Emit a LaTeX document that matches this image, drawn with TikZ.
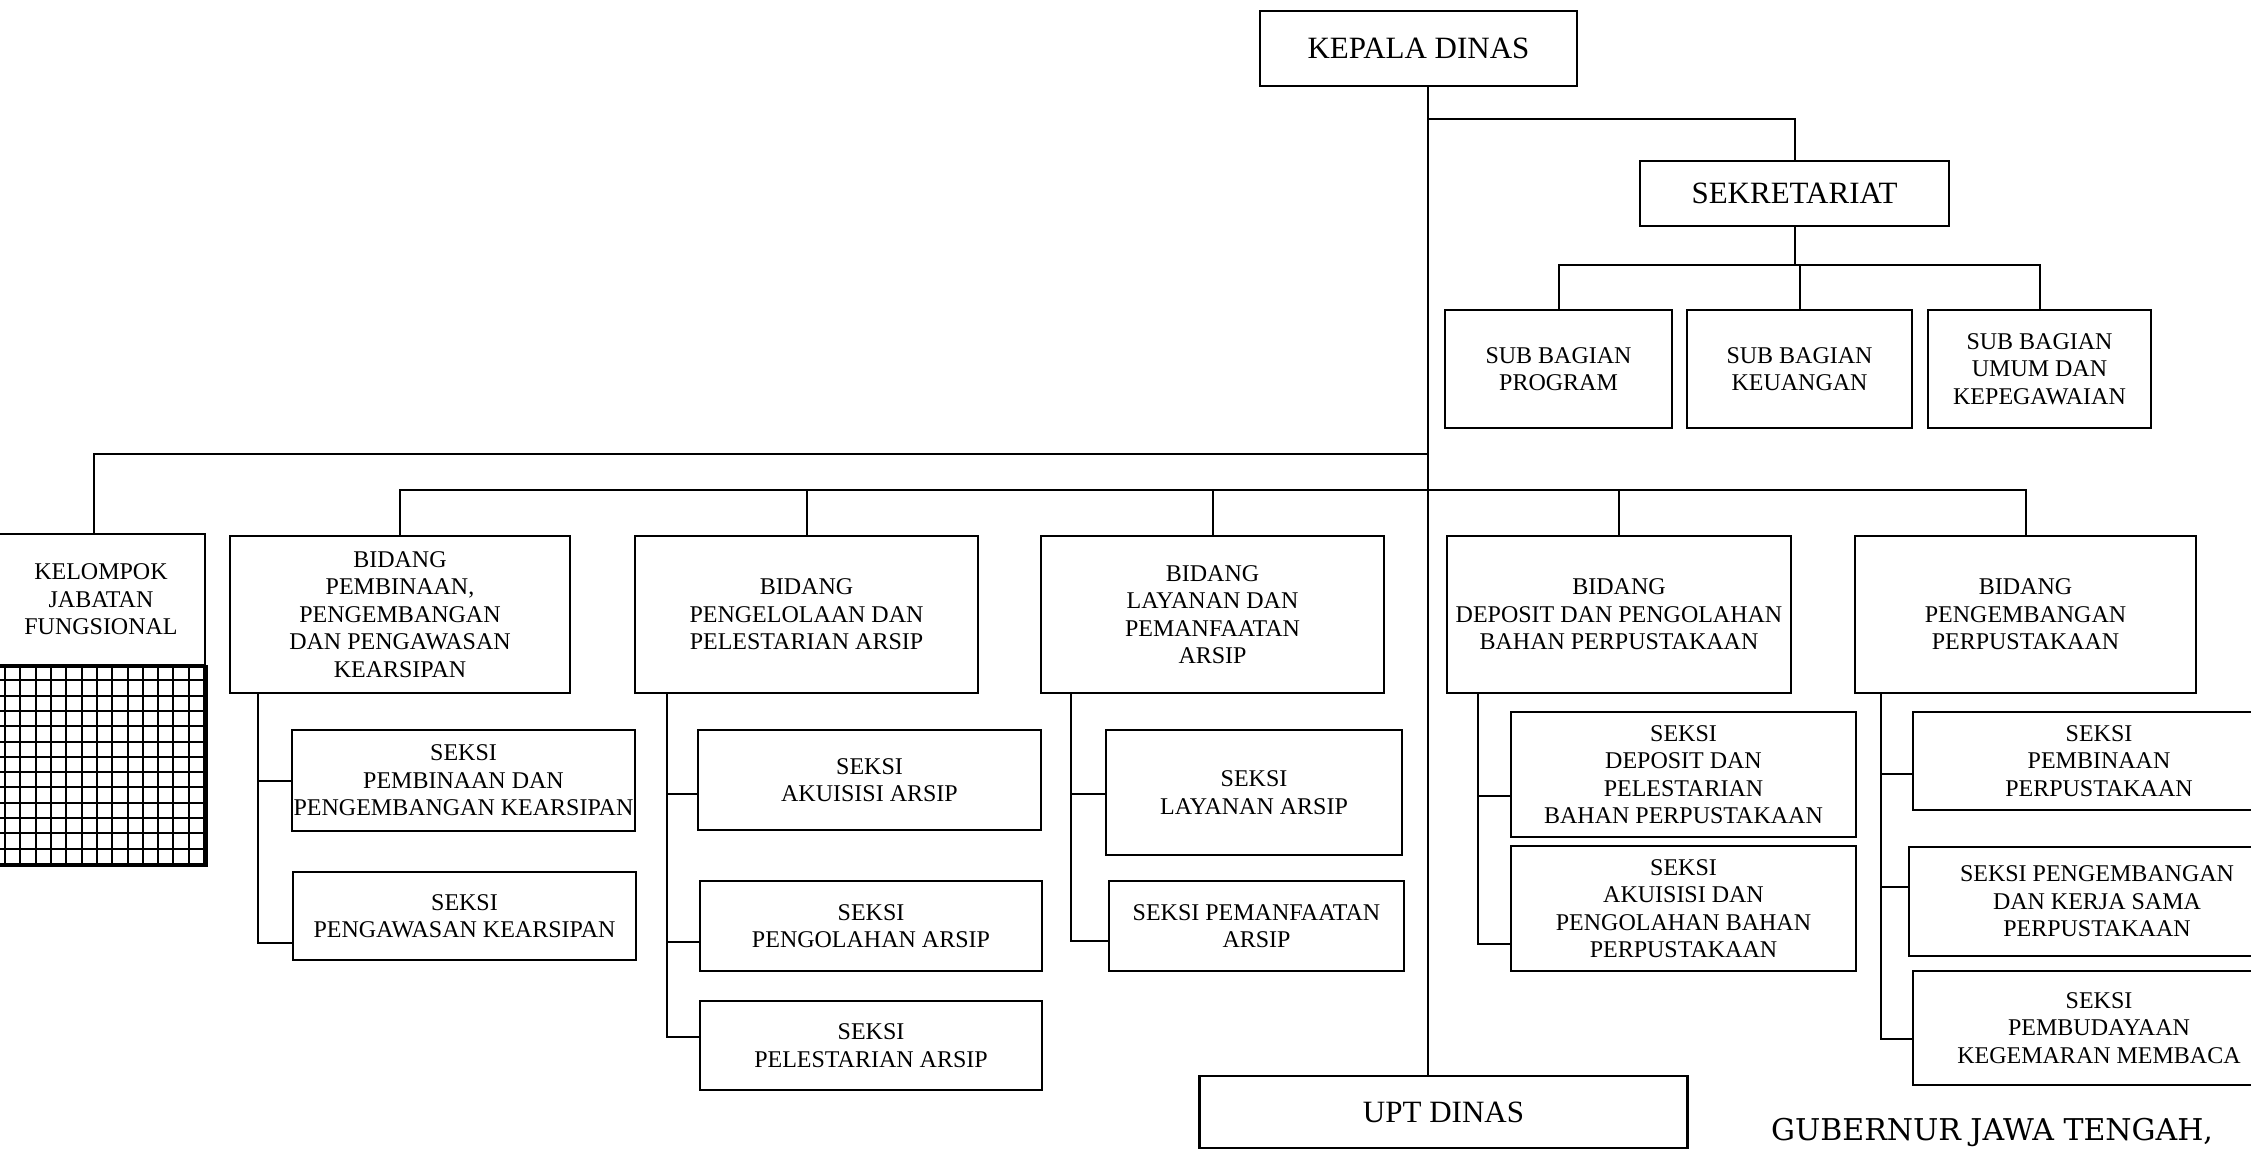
\documentclass[tikz,border=0pt]{standalone}
\usepackage{fontspec}
\setmainfont{Liberation Serif}
\newfontfamily\gubfont{DejaVu Serif}
\tikzset{
kotak/.style={draw, line width=2.5pt, align=center, inner sep=1pt,
  font=\fontsize{24}{27.5}\selectfont},
kotakatas/.style={kotak, font=\fontsize{31}{36}\selectfont},
hubung/.style={line width=2pt}
}

\begin{document}
\begin{tikzpicture}[x=1pt, y=-1pt]
\useasboundingbox (0,0) rectangle (2251,1150);
\node[kotakatas, minimum width=317pt, minimum height=75pt] (kepala) at (1418.5,48.5) {KEPALA DINAS};
\node[kotakatas, minimum width=309pt, minimum height=65pt] (sekretariat) at (1794.5,193.5) {SEKRETARIAT};
\node[kotak, minimum width=227pt, minimum height=118pt] (prog) at (1558.5,369) {SUB BAGIAN\\PROGRAM};
\node[kotak, minimum width=225pt, minimum height=118pt] (keu) at (1799.5,369) {SUB BAGIAN\\KEUANGAN};
\node[kotak, minimum width=223pt, minimum height=118pt] (umum) at (2039.5,369) {SUB BAGIAN\\UMUM DAN\\KEPEGAWAIAN};
\node[kotakatas, minimum width=488pt, minimum height=72pt] (upt) at (1443.5,1112) {UPT DINAS};

\node[kotak, minimum width=208pt, minimum height=131pt] (kelompok) at (101,599.5) {KELOMPOK\\JABATAN\\FUNGSIONAL};
\draw[line width=2pt, shift={(204,665)}, step=15.3pt] (-207,199) grid (0,0);
\draw[line width=2.5pt] (kelompok.south west) rectangle ([yshift=-199pt]kelompok.south east);

\node[kotak, minimum width=340pt, minimum height=157pt] (b1) at (400,614.5) {BIDANG\\PEMBINAAN,\\PENGEMBANGAN\\DAN PENGAWASAN\\KEARSIPAN};
\node[kotak, minimum width=343pt, minimum height=157pt] (b2) at (806.5,614.5) {BIDANG\\PENGELOLAAN DAN\\PELESTARIAN ARSIP};
\node[kotak, minimum width=343pt, minimum height=157pt] (b3) at (1212.5,614.5) {BIDANG\\LAYANAN DAN\\PEMANFAATAN\\ARSIP};
\node[kotak, minimum width=344pt, minimum height=157pt] (b4) at (1619,614.5) {BIDANG\\DEPOSIT DAN PENGOLAHAN\\BAHAN PERPUSTAKAAN};
\node[kotak, minimum width=341pt, minimum height=157pt] (b5) at (2025.5,614.5) {BIDANG\\PENGEMBANGAN\\PERPUSTAKAAN};

\node[kotak, minimum width=343pt, minimum height=101pt] (s11) at (463.5,780.5) {SEKSI\\PEMBINAAN DAN\\PENGEMBANGAN KEARSIPAN};
\node[kotak, minimum width=343pt, minimum height=88pt] (s12) at (464.5,916) {SEKSI\\PENGAWASAN KEARSIPAN};
\node[kotak, minimum width=343pt, minimum height=100pt] (s21) at (869.5,780) {SEKSI\\AKUISISI ARSIP};
\node[kotak, minimum width=342pt, minimum height=90pt] (s22) at (871,926) {SEKSI\\PENGOLAHAN ARSIP};
\node[kotak, minimum width=342pt, minimum height=89pt] (s23) at (871,1045.5) {SEKSI\\PELESTARIAN ARSIP};
\node[kotak, minimum width=296pt, minimum height=125pt] (s31) at (1254,792.5) {SEKSI\\LAYANAN ARSIP};
\node[kotak, minimum width=295pt, minimum height=90pt] (s32) at (1256.5,926) {SEKSI PEMANFAATAN\\ARSIP};
\node[kotak, minimum width=345pt, minimum height=125pt] (s41) at (1683.5,774.5) {SEKSI\\DEPOSIT DAN\\PELESTARIAN\\BAHAN PERPUSTAKAAN};
\node[kotak, minimum width=345pt, minimum height=125pt] (s42) at (1683.5,908.5) {SEKSI\\AKUISISI DAN\\PENGOLAHAN BAHAN\\PERPUSTAKAAN};
\node[kotak, minimum width=372pt, minimum height=98pt] (s51) at (2099,761) {SEKSI\\PEMBINAAN\\PERPUSTAKAAN};
\node[kotak, minimum width=376pt, minimum height=109pt] (s52) at (2097,901.5) {SEKSI PENGEMBANGAN\\DAN KERJA SAMA\\PERPUSTAKAAN};
\node[kotak, minimum width=372pt, minimum height=114pt] (s53) at (2099,1028) {SEKSI\\PEMBUDAYAAN\\KEGEMARAN MEMBACA};

\node[font=\gubfont\fontsize{30}{34}\selectfont, inner sep=0pt] (gub) at (1992,1132) {GUBERNUR JAWA TENGAH,};

\coordinate (cab) at (1428,454);
\coordinate (jalur) at (1428,490);
\coordinate (subbar) at (1799,265);

\draw[hubung] (kepala.south -| cab) -- (upt.north -| cab);
\draw[hubung] ([yshift=-32pt]kepala.south -| cab) -| (sekretariat.north);
\draw[hubung] (sekretariat.south) -- (sekretariat.south |- subbar);
\draw[hubung] (prog.north) |- (subbar) -| (umum.north);
\draw[hubung] (keu.north) -- (keu.north |- subbar);
\draw[hubung] ([xshift=-7pt]kelompok.north) |- (cab);
\draw[hubung] (b1.north) |- (jalur) -| (b5.north);
\draw[hubung] (b2.north) -- (b2.north |- jalur);
\draw[hubung] (b3.north) -- (b3.north |- jalur);
\draw[hubung] (b4.north) -- (b4.north |- jalur);

\draw[hubung] ([xshift=29pt]b1.south west) |- ([yshift=-27pt]s12.west);
\draw[hubung] ([xshift=29pt]b1.south west) |- (s11.west);
\draw[hubung] ([xshift=33pt]b2.south west) |- ([yshift=8.5pt]s23.west);
\draw[hubung] ([xshift=33pt]b2.south west) |- ([yshift=-14pt]s21.west);
\draw[hubung] ([xshift=33pt]b2.south west) |- ([yshift=-16pt]s22.west);
\draw[hubung] ([xshift=31pt]b3.south west) |- ([yshift=-15pt]s32.west);
\draw[hubung] ([xshift=31pt]b3.south west) |- ([yshift=-1.5pt]s31.west);
\draw[hubung] ([xshift=32pt]b4.south west) |- ([yshift=-35.5pt]s42.west);
\draw[hubung] ([xshift=32pt]b4.south west) |- ([yshift=-21.5pt]s41.west);
\draw[hubung] ([xshift=27pt]b5.south west) |- ([yshift=-11pt]s53.west);
\draw[hubung] ([xshift=27pt]b5.south west) |- ([yshift=14.5pt]s52.west);
\draw[hubung] ([xshift=27pt]b5.south west) |- ([yshift=-13pt]s51.west);
\end{tikzpicture}
\end{document}
